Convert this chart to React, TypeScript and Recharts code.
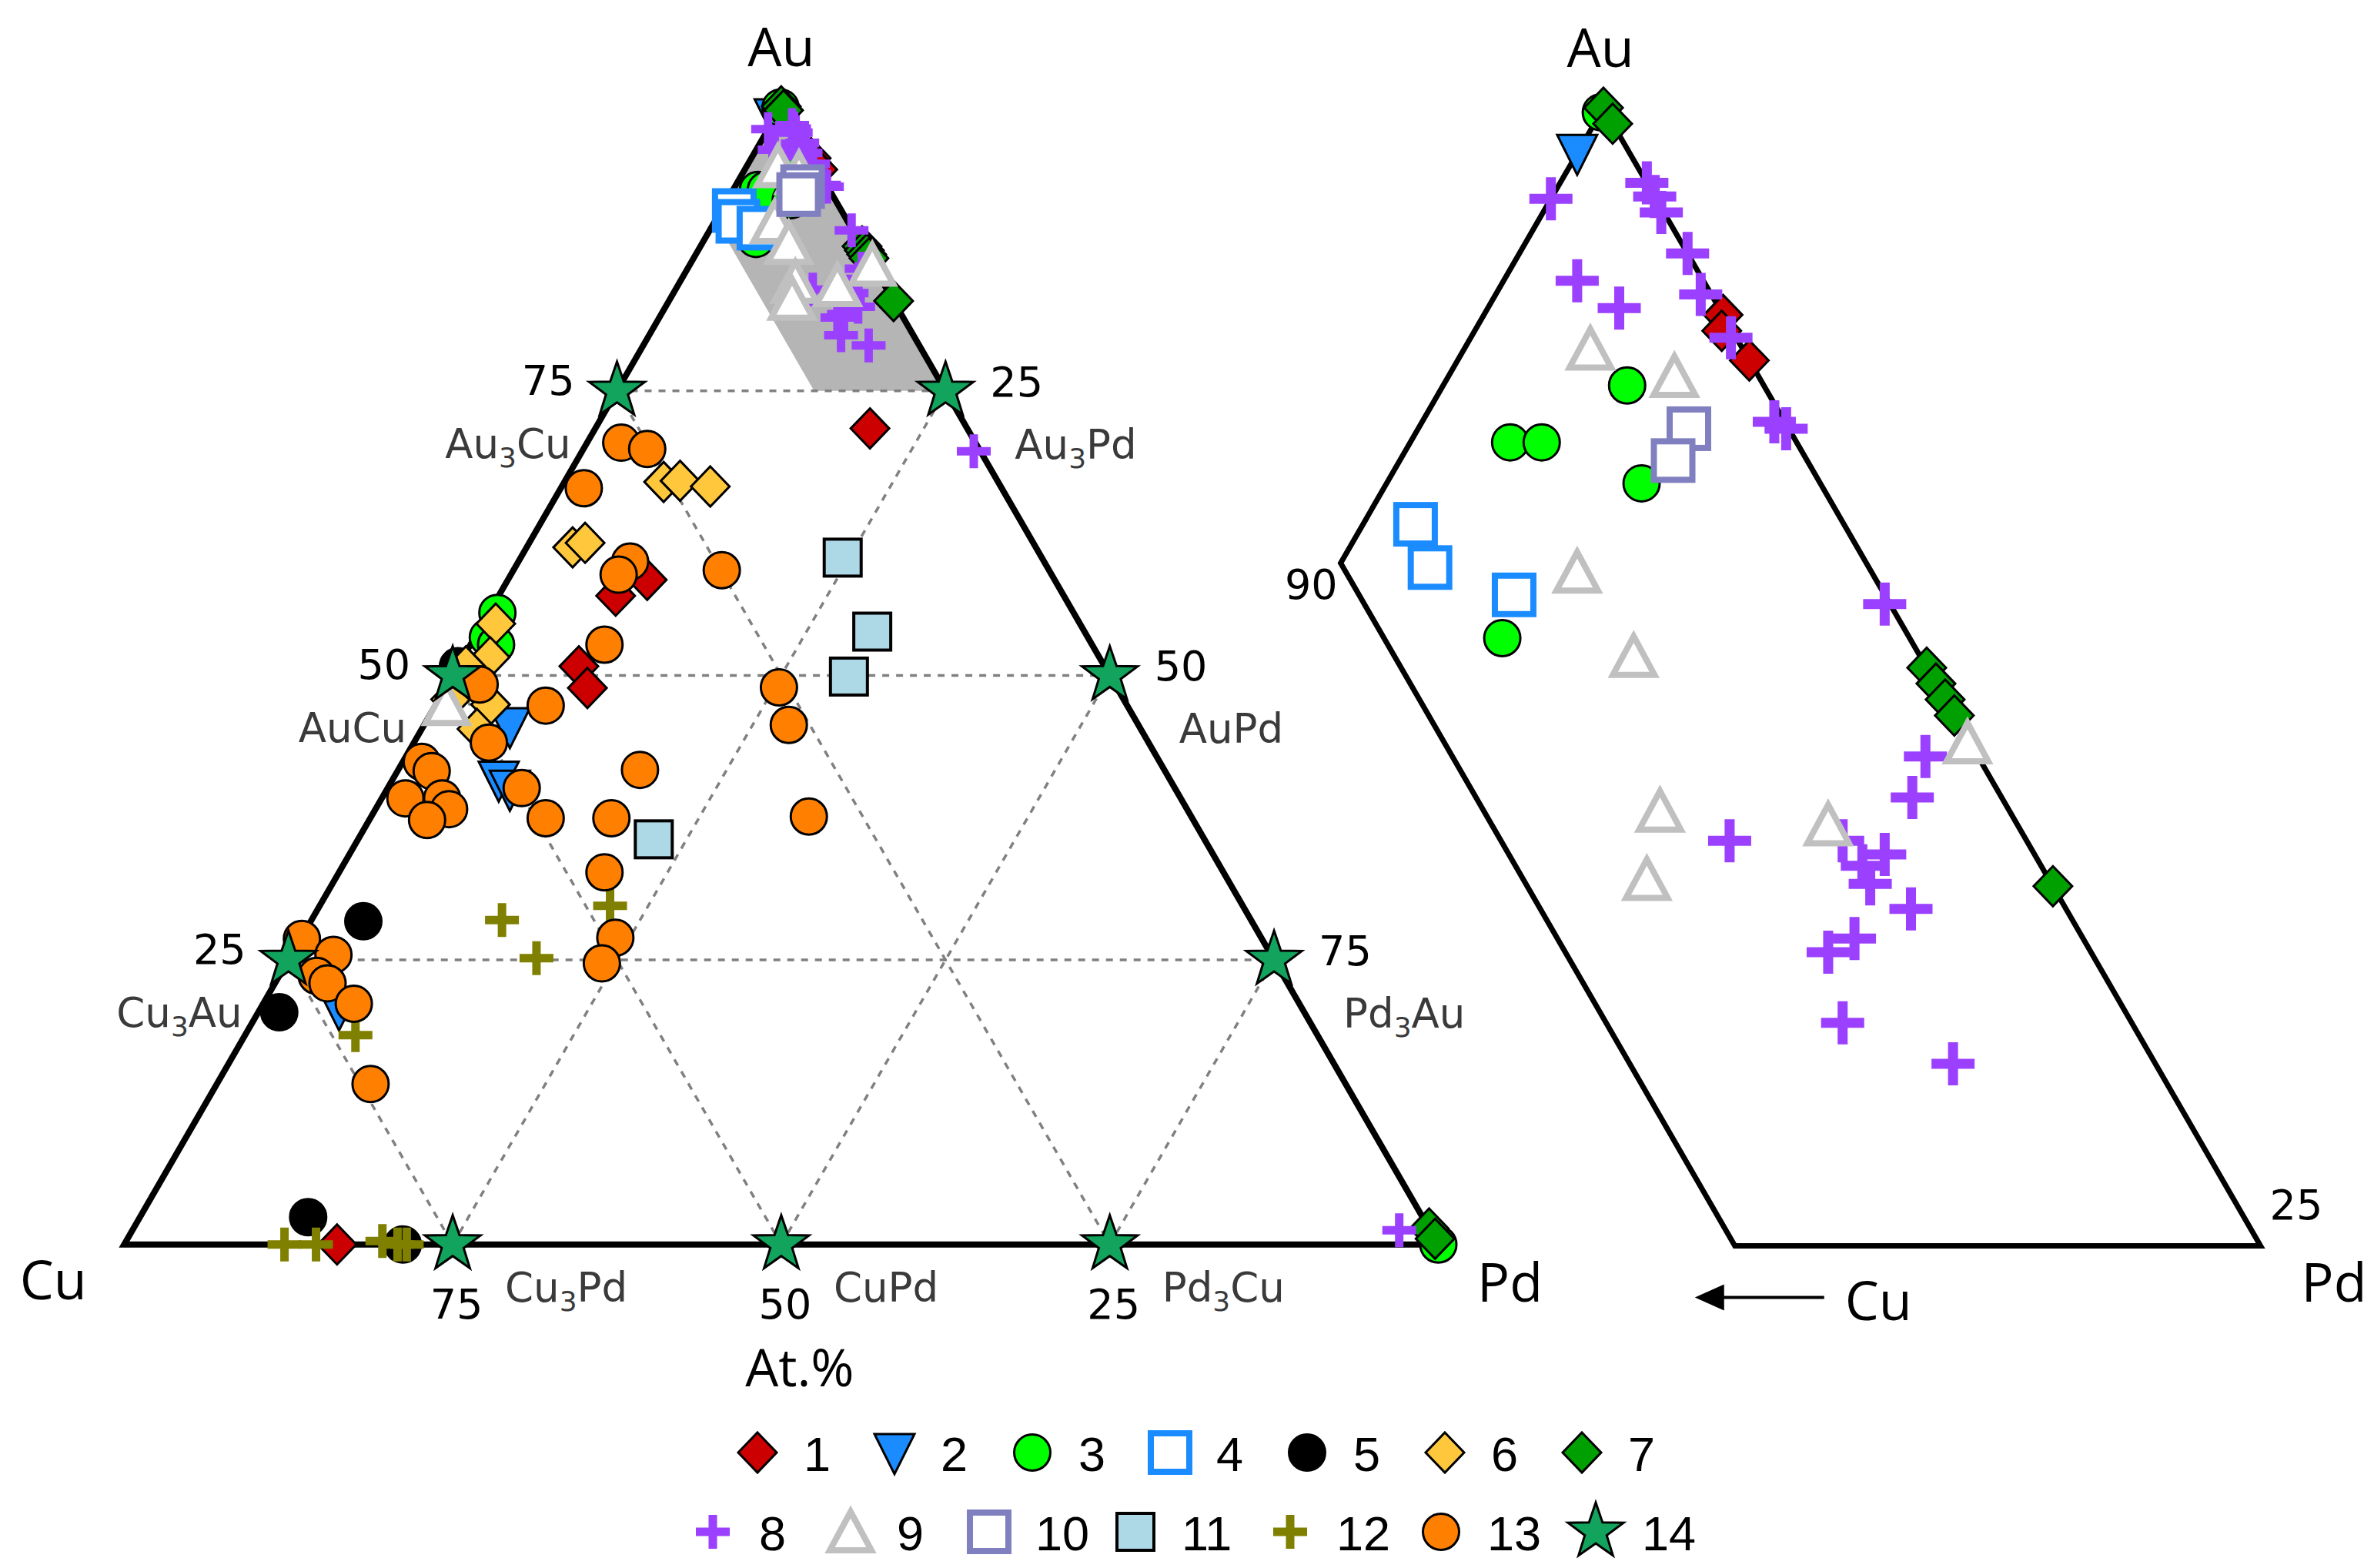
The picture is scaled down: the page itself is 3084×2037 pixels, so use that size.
import React from 'react';
import { ScatterChart, Scatter, XAxis, YAxis, Legend } from 'recharts';

const W = 3084;
const H = 2037;
const SQ3 = Math.sqrt(3) / 2;

// Composition pairs: [Au at.%, Pd at.%]  (Cu = 100 - Au - Pd)
type Comp = [number, number];

const SERIES_NAMES = ['1', '2', '3', '4', '5', '6', '7', '8', '9', '10', '11', '12', '13', '14'];

const S1_RED: Comp[] = [
  [95.45, 4.55], [95.1, 4.7], [94.45, 5.55], [71.7, 20.9], [58.4, 10.6], [57.0, 8.9],
  [50.8, 9.2], [48.9, 10.8], [0, 16.2],
];
const S2_BLUE_TRI: Comp[] = [[99.0, 0], [45.5, 6.6], [40.8, 8.1], [40.0, 9.35], [20.7, 6.0]];
const S3_GREEN_CIRCLE: Comp[] = [
  [99.9, 0], [93.9, 3.5], [92.65, 1.9], [92.65, 2.5], [91.75, 4.85], [88.35, 3.9],
  [55.5, 0.65], [53.35, 1.0], [52.7, 1.95], [0, 100],
];
const S4_BLUE_SQUARE: Comp[] = [[90.85, 1.0], [89.9, 1.75], [89.3, 3.65]];
const S5_BLACK: Comp[] = [[50.8, 0], [28.4, 4.0], [20.4, 1.6], [2.4, 12.8], [0, 21.2]];
const S6_YELLOW: Comp[] = [
  [67.0, 7.55], [67.1, 8.75], [66.6, 11.3], [61.25, 3.5], [61.65, 4.25], [54.55, 1.0],
  [51.6, 2.05], [50.8, 0.6], [47.9, 0.9], [47.45, 4.15], [45.3, 4.2],
];
const S7_GREEN_DIAMOND: Comp[] = [
  [100, 0], [99.65, 0.35], [87.7, 12.3], [87.35, 12.65], [87.0, 13.0], [86.65, 13.35],
  [82.9, 17.1], [1.4, 98.6], [0.5, 99.5],
];
const S8_PURPLE: Comp[] = [
  [98.0, 0], [98.35, 1.65], [98.05, 1.95], [97.7, 2.25], [96.8, 3.2], [95.9, 3.9],
  [94.95, 4.95], [96.2, 1.4], [95.6, 2.5], [93.1, 6.7], [92.95, 7.0], [89.1, 10.8],
  [83.9, 10.45], [85.75, 13.25], [84.85, 13.45], [83.9, 12.6], [83.6, 13.55], [83.35, 13.25],
  [82.95, 13.6], [82.4, 14.65], [81.75, 13.9], [81.45, 13.55], [79.9, 14.6], [79.0, 17.15],
  [69.7, 29.8], [1.25, 96.4],
];
const S9_GREY_TRI: Comp[] = [
  [94.7, 2.4], [94.1, 4.3], [89.8, 4.6], [87.95, 6.6], [84.55, 8.8], [83.05, 9.3],
  [84.25, 12.15], [86.05, 13.9], [47.45, 0.8],
];
const S10_LAVENDER: Comp[] = [[92.95, 5.15], [92.25, 5.2]];
const S11_LIGHTBLUE: Comp[] = [[60.35, 24.5], [53.85, 30.0], [49.9, 30.2], [35.6, 22.5]];
const S12_OLIVE: Comp[] = [
  [28.5, 14.5], [25.15, 18.8], [29.75, 22.1], [18.4, 8.4], [0, 12.2], [0, 14.6],
  [0.3, 19.5], [0, 20.8], [0, 21.5],
];
const S13_ORANGE: Comp[] = [
  [70.45, 2.6], [69.9, 4.85], [66.45, 1.75], [60.0, 8.5], [58.85, 8.2], [59.25, 15.85],
  [52.7, 10.2], [47.35, 8.4], [49.2, 2.45], [44.1, 5.7], [41.7, 18.4], [42.4, 1.45],
  [41.6, 2.6], [39.2, 1.8], [39.2, 4.6], [38.25, 5.6], [37.3, 4.4], [40.1, 10.2],
  [37.45, 13.35], [37.45, 18.35], [48.95, 25.35], [45.65, 27.75], [37.6, 33.3], [32.7, 20.2],
  [26.95, 23.9], [24.7, 24.0], [14.1, 11.7], [26.85, 0.1], [25.45, 3.2], [23.6, 2.85],
  [22.95, 4.0], [21.15, 6.9],
];
const S14_STARS: Comp[] = [
  [75, 0], [50, 0], [25, 0], [0, 25], [0, 50], [0, 75], [25, 75], [50, 50], [75, 25],
];

const SERIES_DATA: Comp[][] = [
  S1_RED, S2_BLUE_TRI, S3_GREEN_CIRCLE, S4_BLUE_SQUARE, S5_BLACK, S6_YELLOW, S7_GREEN_DIAMOND,
  S8_PURPLE, S9_GREY_TRI, S10_LAVENDER, S11_LIGHTBLUE, S12_OLIVE, S13_ORANGE, S14_STARS,
];

// frame / grid definitions (compositions)
const TRIANGLE: Comp[] = [[0, 0], [0, 100], [100, 0], [0, 0], [0, 100]];
const ZOOM_FRAME: Comp[] = [[100, 0], [75, 25], [75, 15], [90, 0], [100, 0], [75, 25]];
const ZOOM_AREA: Comp[] = [[100, 0], [75, 25], [75, 15], [90, 0]];
const GRID_LEVELS = [25, 50, 75];

// axis tick values
const AU_TICKS = [75, 50, 25];
const PD_TICKS = [25, 50, 75];
const CU_TICKS = [75, 50, 25];

type Phase = { at: Comp; pre: string; sub: string; post: string };
const PHASES_CU_AU: Phase[] = [
  { at: [75, 0], pre: 'Au', sub: '3', post: 'Cu' },
  { at: [50, 0], pre: 'AuCu', sub: '', post: '' },
  { at: [25, 0], pre: 'Cu', sub: '3', post: 'Au' },
];
const PHASES_AU_PD: Phase[] = [
  { at: [75, 25], pre: 'Au', sub: '3', post: 'Pd' },
  { at: [50, 50], pre: 'AuPd', sub: '', post: '' },
  { at: [25, 75], pre: 'Pd', sub: '3', post: 'Au' },
];
const PHASES_CU_PD: Phase[] = [
  { at: [0, 25], pre: 'Cu', sub: '3', post: 'Pd' },
  { at: [0, 50], pre: 'CuPd', sub: '', post: '' },
  { at: [0, 75], pre: 'Pd', sub: '3', post: 'Cu' },
];
const VERTEX_LABELS: { at: Comp; label: string }[] = [
  { at: [100, 0], label: 'Au' },
  { at: [0, 0], label: 'Cu' },
  { at: [0, 100], label: 'Pd' },
];
const AXIS_TITLE: { at: Comp; label: string }[] = [{ at: [0, 50], label: 'At.%' }];

// ---------- helpers ----------
const pt = (c: Comp) => ({ x: c[1] + c[0] / 2, y: c[0] * SQ3 });
const inZoom = (c: Comp) => c[0] >= 75 && 100 - c[0] - c[1] <= 10.0001;

type Kind = 'diamond' | 'triDown' | 'circle' | 'squareOpen' | 'plus' | 'triUpOpen' | 'squareFill' | 'star';
interface MStyle { kind: Kind; fill: string; stroke: string; sw: number }
const STYLES: MStyle[] = [
  { kind: 'diamond', fill: '#cc0000', stroke: '#000', sw: 3 },
  { kind: 'triDown', fill: '#1a8cff', stroke: '#000', sw: 3 },
  { kind: 'circle', fill: '#00ff00', stroke: '#000', sw: 3 },
  { kind: 'squareOpen', fill: '#ffffff', stroke: '#1a8cff', sw: 8 },
  { kind: 'circle', fill: '#000000', stroke: '#000', sw: 3 },
  { kind: 'diamond', fill: '#ffc83c', stroke: '#000', sw: 3 },
  { kind: 'diamond', fill: '#00a000', stroke: '#000', sw: 3 },
  { kind: 'plus', fill: '#9b40ff', stroke: 'none', sw: 0 },
  { kind: 'triUpOpen', fill: '#ffffff', stroke: '#c0c0c0', sw: 8 },
  { kind: 'squareOpen', fill: '#ffffff', stroke: '#8080c0', sw: 8 },
  { kind: 'squareFill', fill: '#add8e6', stroke: '#000', sw: 4 },
  { kind: 'plus', fill: '#808000', stroke: 'none', sw: 0 },
  { kind: 'circle', fill: '#ff8000', stroke: '#000', sw: 3 },
  { kind: 'star', fill: '#12a35c', stroke: '#000', sw: 3 },
];

const starPoints = (cx: number, cy: number, R: number, r: number) =>
  Array.from({ length: 10 }, (_, k) => {
    const a = -Math.PI / 2 + (k * Math.PI) / 5;
    const rad = k % 2 === 0 ? R : r;
    return `${cx + rad * Math.cos(a)},${cy + rad * Math.sin(a)}`;
  }).join(' ');

function drawMarker(st: MStyle, cx: number, cy: number, plus: number, plusT: number) {
  const common = { fill: st.fill, stroke: st.stroke, strokeWidth: st.sw };
  switch (st.kind) {
    case 'circle':
      return <circle cx={cx} cy={cy} r={23.5} {...common} />;
    case 'diamond':
      return <polygon points={`${cx},${cy - 26} ${cx + 25},${cy} ${cx},${cy + 26} ${cx - 25},${cy}`} {...common} />;
    case 'triDown':
      return <polygon points={`${cx - 26},${cy - 24} ${cx + 26},${cy - 24} ${cx},${cy + 28}`} {...common} />;
    case 'squareOpen':
      return <rect x={cx - 25} y={cy - 25} width={50} height={50} {...common} />;
    case 'squareFill':
      return <rect x={cx - 24} y={cy - 24} width={48} height={48} {...common} />;
    case 'plus': {
      const h = plus / 2;
      const t = plusT / 2;
      return (
        <path
          d={`M${cx - h},${cy - t}H${cx + h}V${cy + t}H${cx - h}Z M${cx - t},${cy - h}H${cx + t}V${cy + h}H${cx - t}Z`}
          fill={st.fill}
        />
      );
    }
    case 'triUpOpen':
      return <polygon points={`${cx},${cy - 26} ${cx + 27},${cy + 24} ${cx - 27},${cy + 24}`} {...common} />;
    case 'star':
      return <polygon points={starPoints(cx, cy, 38, 15)} {...common} />;
    default:
      return <g />;
  }
}

const Empty = () => <g />;
const FONT_MAIN = "'Open Sans', 'Noto Sans', sans-serif";
const FONT_TICK = "'DejaVu Sans', sans-serif";

const frameScatter = (key: string, pts: Comp[], line: any) => (
  <Scatter
    key={key}
    data={pts.map(pt)}
    isAnimationActive={false}
    line={line}
    lineType="joint"
    lineJointType="linear"
    shape={Empty}
    legendType="none"
  />
);

const gridSegments: Comp[][] = GRID_LEVELS.flatMap((v) => [
  [[v, 0], [v, 100 - v]] as Comp[],
  [[100 - v, 0], [0, 100 - v]] as Comp[],
  [[0, v], [100 - v, v]] as Comp[],
]);

const plainText = (anchor: 'start' | 'middle' | 'end', dx: number, dy: number, family: string, size: number, color = '#000') =>
  (p: any) => (
    <text x={p.cx + dx} y={p.cy + dy} textAnchor={anchor} fontFamily={family} fontSize={size} fill={color}>
      {p.payload.label}
    </text>
  );

const phaseText = (anchor: 'start' | 'end', dx: number, dy: number) => (p: any) => {
  const d = p.payload as Phase;
  return (
    <text x={p.cx + dx} y={p.cy + dy} textAnchor={anchor} fontFamily={FONT_TICK} fontSize={53} fill="#3a3a3a">
      {d.pre}
      {d.sub ? <tspan fontSize={36} dy={12}>{d.sub}</tspan> : null}
      {d.post ? <tspan dy={d.sub ? -12 : 0}>{d.post}</tspan> : null}
    </text>
  );
};

const VERTEX_OFFSETS: Record<string, [number, number]> = { Au: [0, -52], Cu: [-92, 71], Pd: [93, 74] };
const vertexText = (p: any) => {
  const [dx, dy] = VERTEX_OFFSETS[p.payload.label];
  return (
    <text x={p.cx + dx} y={p.cy + dy} textAnchor="middle" fontFamily={FONT_MAIN} fontSize={70} fill="#000">
      {p.payload.label}
    </text>
  );
};

const textScatter = (key: string, data: any[], shape: any) => (
  <Scatter key={key} data={data} isAnimationActive={false} shape={shape} legendType="none" />
);

// ---------- left (full) ternary ----------
const L_LEFT = 161.3, L_TOP = 138.2, L_W = 1707.2, L_H = 1478.5;

function LeftPanel() {
  return (
    <ScatterChart
      width={W}
      height={H}
      margin={{ left: L_LEFT, top: L_TOP, right: W - L_LEFT - L_W, bottom: H - L_TOP - L_H }}
    >
      <XAxis type="number" dataKey="x" domain={[0, 100]} hide />
      <YAxis type="number" dataKey="y" domain={[0, 100 * SQ3]} hide />
      {frameScatter('area', ZOOM_AREA, { fill: '#b5b5b5', stroke: 'none' })}
      {gridSegments.map((seg, i) =>
        frameScatter(`grid${i}`, seg, { stroke: '#808080', strokeWidth: 3.5, strokeDasharray: '9 9', fill: 'none' })
      )}
      {frameScatter('frame', TRIANGLE, { stroke: '#000', strokeWidth: 8, fill: 'none', strokeLinejoin: 'miter' })}
      {SERIES_DATA.map((d, i) => (
        <Scatter
          key={`s${i}`}
          name={SERIES_NAMES[i]}
          data={d.map(pt)}
          isAnimationActive={false}
          shape={(p: any) => drawMarker(STYLES[i], p.cx, p.cy, 44, 11)}
        />
      ))}
      {textScatter('ticksAu', AU_TICKS.map((v) => ({ ...pt([v, 0]), label: String(v) })), plainText('end', -55, 5, FONT_TICK, 54))}
      {textScatter('ticksPd', PD_TICKS.map((v) => ({ ...pt([100 - v, v]), label: String(v) })), plainText('start', 58, 7, FONT_TICK, 54))}
      {textScatter('ticksCu', CU_TICKS.map((v) => ({ ...pt([0, 100 - v]), label: String(v) })), plainText('middle', 5, 96, FONT_TICK, 54))}
      {textScatter('phCuAu', PHASES_CU_AU.map((d) => ({ ...pt(d.at), ...d })), phaseText('end', -60, 87))}
      {textScatter('phAuPd', PHASES_AU_PD.map((d) => ({ ...pt(d.at), ...d })), phaseText('start', 90, 88))}
      {textScatter('phCuPd', PHASES_CU_PD.map((d) => ({ ...pt(d.at), ...d })), phaseText('start', 68, 74))}
      {textScatter('vertices', VERTEX_LABELS.map((d) => ({ ...pt(d.at), ...d })), vertexText)}
      {textScatter('title', AXIS_TITLE.map((d) => ({ ...pt(d.at), ...d })), plainText('middle', 24, 184, FONT_MAIN, 68))}
    </ScatterChart>
  );
}

// ---------- right (zoomed) ternary ----------
const R_LEFT = 1741.6, R_TOP = 140, R_W = 1195, R_H = 1478.5;

const ZOOM_LABELS: { at: Comp; label: string; kind: string }[] = [
  { at: [100, 0], label: 'Au', kind: 'apex' },
  { at: [90, 0], label: '90', kind: 'tickAu' },
  { at: [75, 25], label: '25', kind: 'tickPd' },
  { at: [75, 25], label: 'Pd', kind: 'pd' },
  { at: [75, 15], label: 'Cu', kind: 'cu' },
];

const zoomText = (p: any) => {
  const d = p.payload;
  const { cx, cy } = p;
  if (d.kind === 'apex')
    return <text x={cx - 4} y={cy - 53} textAnchor="middle" fontFamily={FONT_MAIN} fontSize={70}>{d.label}</text>;
  if (d.kind === 'tickAu')
    return <text x={cx - 4} y={cy + 47} textAnchor="end" fontFamily={FONT_TICK} fontSize={54}>{d.label}</text>;
  if (d.kind === 'tickPd')
    return <text x={cx + 12} y={cy - 35} textAnchor="start" fontFamily={FONT_TICK} fontSize={54}>{d.label}</text>;
  if (d.kind === 'pd')
    return <text x={cx + 53} y={cy + 72} textAnchor="start" fontFamily={FONT_MAIN} fontSize={70}>{d.label}</text>;
  return (
    <g>
      <line x1={cx + 116} y1={cy + 67} x2={cx - 20} y2={cy + 67} stroke="#000" strokeWidth={4} />
      <polygon points={`${cx - 52},${cy + 67} ${cx - 14},${cy + 50} ${cx - 14},${cy + 84}`} fill="#000" />
      <text x={cx + 143} y={cy + 96} textAnchor="start" fontFamily={FONT_MAIN} fontSize={70}>{d.label}</text>
    </g>
  );
};

function RightPanel() {
  return (
    <ScatterChart
      width={W}
      height={H}
      margin={{ left: R_LEFT, top: R_TOP, right: W - R_LEFT - R_W, bottom: H - R_TOP - R_H }}
    >
      <XAxis type="number" dataKey="x" domain={[45, 62.5]} hide />
      <YAxis type="number" dataKey="y" domain={[75 * SQ3, 100 * SQ3]} hide />
      {frameScatter('zframe', ZOOM_FRAME, { stroke: '#000', strokeWidth: 7, fill: 'none', strokeLinejoin: 'miter' })}
      {SERIES_DATA.slice(0, 13).map((d, i) => (
        <Scatter
          key={`z${i}`}
          name={SERIES_NAMES[i]}
          data={d.filter(inZoom).map(pt)}
          isAnimationActive={false}
          shape={(p: any) => drawMarker(STYLES[i], p.cx, p.cy, 56, 13)}
        />
      ))}
      {textScatter('zlabels', ZOOM_LABELS.map((d) => ({ ...pt(d.at), ...d })), zoomText)}
    </ScatterChart>
  );
}

// ---------- legend ----------
const LEGEND_TOP = 1837;
const LEGEND_H = 200;
const LEGEND_X = [
  [984, 1162, 1341, 1520, 1698, 1877, 2055],
  [926, 1105, 1285, 1475, 1676, 1872, 2073],
];
const LEGEND_Y = [50, 153];

const renderLegend = () => (
  <svg width={W} height={LEGEND_H} style={{ display: 'block' }}>
    {SERIES_NAMES.map((name, i) => {
      const row = i < 7 ? 0 : 1;
      const cx = LEGEND_X[row][i % 7];
      const cy = LEGEND_Y[row];
      return (
        <g key={name}>
          {drawMarker(STYLES[i], cx, cy, 44, 11)}
          <text x={cx + 60} y={cy + 24} fontFamily="'Liberation Sans', Arial, sans-serif" fontSize={63} fill="#000">
            {name}
          </text>
        </g>
      );
    })}
  </svg>
);

function LegendPanel() {
  return (
    <ScatterChart width={W} height={LEGEND_H} margin={{ top: 0, left: 0, right: 0, bottom: 0 }}>
      <XAxis type="number" dataKey="x" domain={[0, 1]} hide />
      <YAxis type="number" dataKey="y" domain={[0, 1]} hide />
      {SERIES_NAMES.map((n, i) => (
        <Scatter key={n} name={n} data={[]} fill={STYLES[i].fill} isAnimationActive={false} />
      ))}
      <Legend
        content={renderLegend}
        wrapperStyle={{ position: 'absolute', left: 0, top: 0, width: W, height: LEGEND_H, margin: 0, padding: 0 }}
      />
    </ScatterChart>
  );
}

export default function App() {
  return (
    <div style={{ position: 'absolute', left: 0, top: 0, width: W, height: H, background: '#fff', overflow: 'hidden' }}>
      <div style={{ position: 'absolute', left: 0, top: 0 }}>
        <LeftPanel />
      </div>
      <div style={{ position: 'absolute', left: 0, top: 0 }}>
        <RightPanel />
      </div>
      <div style={{ position: 'absolute', left: 0, top: LEGEND_TOP }}>
        <LegendPanel />
      </div>
    </div>
  );
}
